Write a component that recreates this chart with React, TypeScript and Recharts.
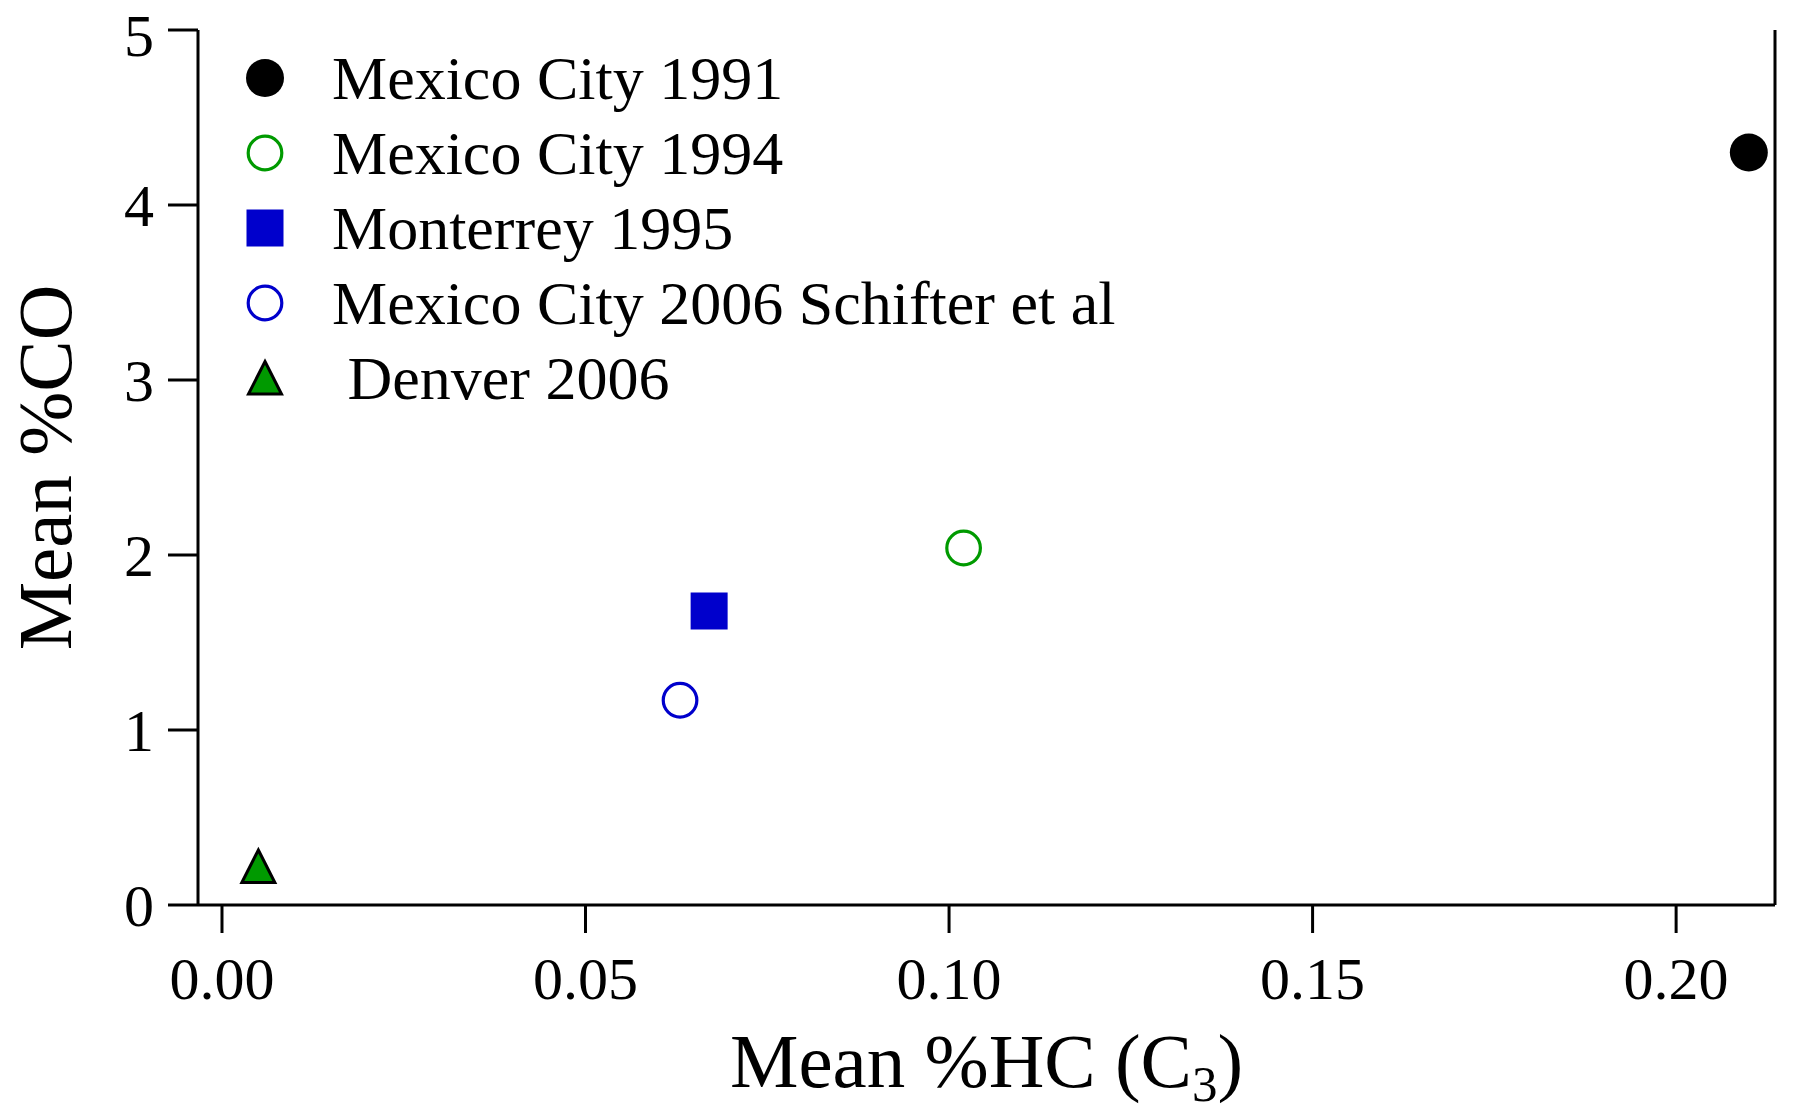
import React from "react";
import {
  ScatterChart,
  Scatter,
  XAxis,
  YAxis,
  Legend,
} from "recharts";

const seriesNames = [
  "Mexico City 1991",
  "Mexico City 1994",
  "Monterrey 1995",
  "Mexico City 2006 Schifter et al",
  " Denver 2006",
];
const hcValues = [0.21, 0.102, 0.067, 0.063, 0.005];
const coValues = [4.3, 2.04, 1.68, 1.17, 0.22];
const xTicks = [0, 0.05, 0.1, 0.15, 0.2];
const yTicks = [0, 1, 2, 3, 4, 5];
const xDomain = [-0.0033, 0.2136];
const yDomain = [0, 5];

const FONT = "'Liberation Serif', 'Times New Roman', serif";
const BLACK = "#000000";
const GREEN = "#009a00";
const BLUE = "#0000cc";

type Kind = "filledCircle" | "openGreen" | "square" | "openBlue" | "triangle";
const kinds: Kind[] = ["filledCircle", "openGreen", "square", "openBlue", "triangle"];

function Marker({ kind, cx, cy }: { kind: Kind; cx: number; cy: number }) {
  switch (kind) {
    case "filledCircle":
      return <circle cx={cx} cy={cy} r={19} fill={BLACK} />;
    case "openGreen":
      return <circle cx={cx} cy={cy} r={16.8} fill="none" stroke={GREEN} strokeWidth={3.2} />;
    case "square":
      return <rect x={cx - 18.5} y={cy - 18.5} width={37} height={37} fill={BLUE} />;
    case "openBlue":
      return <circle cx={cx} cy={cy} r={16.8} fill="none" stroke={BLUE} strokeWidth={3.2} />;
    case "triangle":
      return (
        <path
          d={`M${cx},${cy - 16.5} L${cx + 16.5},${cy + 16} L${cx - 16.5},${cy + 16} Z`}
          fill={GREEN}
          stroke={BLACK}
          strokeWidth={3}
          strokeLinejoin="miter"
        />
      );
  }
  return null;
}

const makeShape = (kind: Kind) => (props: any) => (
  <Marker kind={kind} cx={props.cx} cy={props.cy} />
);

const LegendContent = () => (
  <div style={{ fontFamily: FONT, fontSize: 62, color: BLACK }}>
    {seriesNames.map((name, i) => (
      <div
        key={name}
        style={{ display: "flex", alignItems: "center", height: 75, lineHeight: "75px", whiteSpace: "pre" }}
      >
        <svg width={40} height={40} style={{ display: "block", flex: "0 0 auto" }}>
          <Marker kind={kinds[i]} cx={20} cy={20} />
        </svg>
        <span style={{ marginLeft: 47 }}>{name}</span>
      </div>
    ))}
  </div>
);

const XTitle = (props: any) => {
  const vb = props.viewBox || {};
  const cx = vb.x + vb.width / 2;
  const y = vb.y + 182;
  return (
    <text x={cx} y={y} textAnchor="middle" fontFamily={FONT} fontSize={77} fill={BLACK}>
      <tspan>Mean %HC (C</tspan>
      <tspan fontSize={51} dy={14}>3</tspan>
      <tspan dy={-14}>)</tspan>
    </text>
  );
};

const YTitle = (props: any) => {
  const vb = props.viewBox || {};
  const cy = vb.y + vb.height / 2;
  const x = 71;
  return (
    <text
      x={x}
      y={cy}
      textAnchor="middle"
      fontFamily={FONT}
      fontSize={77}
      fill={BLACK}
      transform={`rotate(-90, ${x}, ${cy})`}
    >
      Mean %CO
    </text>
  );
};

const axisLine = { stroke: BLACK, strokeWidth: 3 };
const tickLine = { stroke: BLACK, strokeWidth: 3 };
const tickStyle = { fontSize: 60, fill: BLACK, fontFamily: FONT };

export default function App() {
  return (
    <div style={{ position: "absolute", left: 0, top: 0, background: "#fff" }}>
      <ScatterChart
        width={1807}
        height={1110}
        margin={{ top: 30, right: 2, bottom: 85, left: 48 }}
      >
        <XAxis
          xAxisId="bottom"
          type="number"
          dataKey="x"
          domain={xDomain}
          ticks={xTicks}
          allowDataOverflow
          tickFormatter={(v: number) => v.toFixed(2)}
          tick={tickStyle}
          tickSize={28}
          tickMargin={23}
          axisLine={axisLine}
          tickLine={tickLine}
          height={120}
          label={<XTitle />}
        />
        <XAxis
          xAxisId="top"
          orientation="top"
          type="number"
          domain={xDomain}
          allowDataOverflow
          tick={false}
          tickLine={false}
          axisLine={axisLine}
          height={0}
        />
        <YAxis
          yAxisId="left"
          type="number"
          dataKey="y"
          domain={yDomain}
          ticks={yTicks}
          allowDataOverflow
          tick={tickStyle}
          tickSize={30}
          tickMargin={14}
          axisLine={axisLine}
          tickLine={tickLine}
          width={150}
          label={<YTitle />}
        />
        <YAxis
          yAxisId="right"
          orientation="right"
          type="number"
          domain={yDomain}
          ticks={yTicks}
          allowDataOverflow
          tick={false}
          tickSize={30}
          axisLine={axisLine}
          tickLine={tickLine}
          width={30}
        />
        <Legend
          layout="vertical"
          align="center"
          verticalAlign="middle"
          content={<LegendContent />}
          wrapperStyle={{ left: 245, top: 40.5, width: 1100, height: 380 }}
        />
        {seriesNames.map((name, i) => (
          <Scatter
            key={name}
            name={name}
            xAxisId="bottom"
            yAxisId="left"
            data={[{ x: hcValues[i], y: coValues[i] }]}
            shape={makeShape(kinds[i])}
            isAnimationActive={false}
          />
        ))}
      </ScatterChart>
    </div>
  );
}
